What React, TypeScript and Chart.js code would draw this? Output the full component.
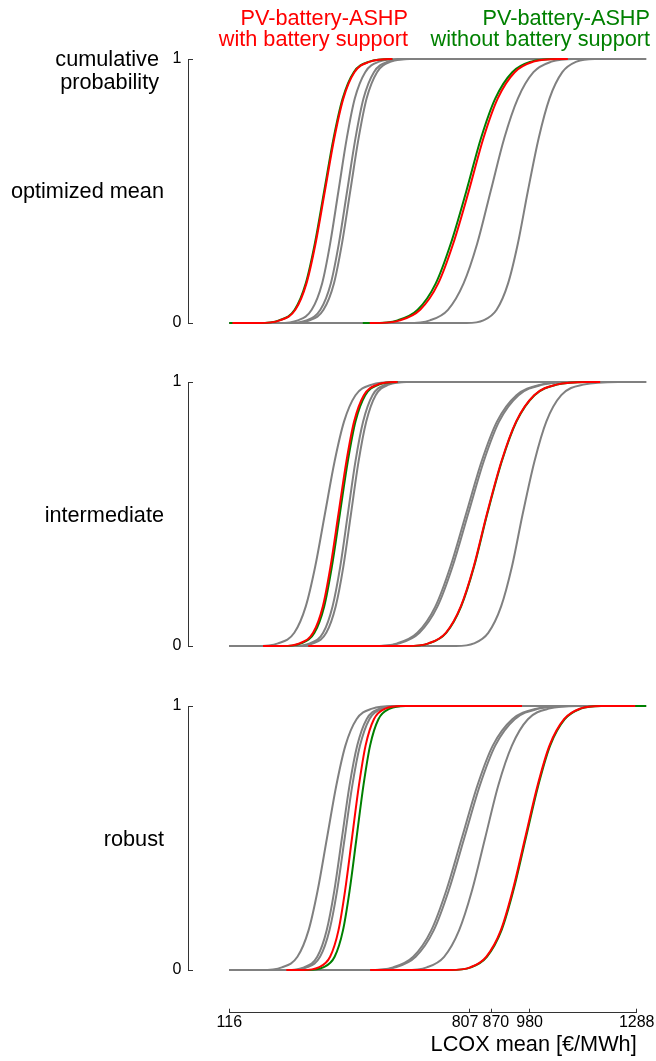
import React, { useEffect, useRef } from "react";
import { Chart, registerables } from "chart.js";

Chart.register(...registerables);

// Cumulative probability levels at which each curve's LCOX value was read
// (first / last entries are the ends of the flat tails of each curve).
const LEVELS = [0, 0, 0.01, 0.05, 0.15, 0.3, 0.5, 0.7, 0.85, 0.95, 0.99, 1, 1];
const Y_TICKS = [0, 1];
const X_TICKS = [116, 807, 870, 980, 1288];
const X_TICK_LABELS = ["116", "807  ", "  870", "980", "1288"];
const X_TITLE = "LCOX mean [€/MWh]";
const Y_TITLE = ["cumulative", "probability"];
const PANEL_LABELS = ["optimized mean", "intermediate", "robust"];
const LEGEND_WITH = ["PV-battery-ASHP", "with battery support"];
const LEGEND_WITHOUT = ["PV-battery-ASHP", "without battery support"];

// ---- optimized mean (LCOX values in €/MWh at LEVELS) ----
const OPT_RED_L = [125, 201, 261, 306, 338, 364, 391, 418, 444, 476, 521, 581, 585];
const OPT_GREEN_L = [116, 199, 259, 304, 336, 362, 389, 416, 442, 474, 519, 579, 585];
const OPT_GRAY_LA = [116, 259, 313, 353, 383, 406, 430, 454, 477, 507, 547, 601, 1315];
const OPT_GRAY_LB = [116, 284, 338, 378, 408, 431, 455, 479, 502, 532, 572, 626, 1315];
const OPT_GRAY_LC = [116, 293, 347, 387, 417, 440, 464, 488, 511, 541, 581, 635, 1315];
const OPT_RED_R = [520, 533, 607, 665, 717, 760, 805, 847, 888, 937, 991, 1061, 1090];
const OPT_GREEN_R = [500, 526, 600, 658, 710, 753, 798, 840, 881, 930, 984, 1054, 1080];
const OPT_GRAY_RD = [116, 628, 693, 745, 790, 829, 868, 907, 946, 991, 1043, 1108, 1315];
const OPT_GRAY_RF = [116, 799, 847, 885, 918, 946, 975, 1006, 1037, 1074, 1115, 1167, 1315];

// ---- intermediate ----
const INT_RED_L = [213, 267, 318, 357, 385, 407, 430, 453, 475, 503, 542, 593, 600];
const INT_GREEN_L = [230, 271, 322, 361, 389, 411, 434, 457, 479, 507, 546, 597, 600];
const INT_GRAY_LA = [116, 193, 256, 303, 336, 363, 391, 419, 446, 479, 526, 589, 1315];
const INT_GRAY_LB = [116, 297, 348, 386, 413, 435, 457, 479, 501, 528, 566, 617, 1315];
const INT_GRAY_LC = [116, 306, 357, 395, 422, 444, 466, 488, 510, 537, 575, 626, 1315];
const INT_RED_R = [343, 627, 689, 739, 782, 819, 857, 899, 941, 993, 1057, 1147, 1183];
const INT_GREEN_R = [400, 628, 690, 740, 783, 820, 858, 900, 942, 994, 1058, 1148, 1170];
const INT_GRAY_RD = [116, 525, 599, 657, 709, 752, 797, 842, 886, 942, 1012, 1097, 1315];
const INT_GRAY_RE = [116, 531, 605, 663, 715, 758, 803, 848, 892, 948, 1018, 1103, 1315];
const INT_GRAY_RF = [116, 768, 820, 861, 898, 929, 960, 994, 1028, 1071, 1135, 1235, 1315];

// ---- robust ----
const ROB_RED_L = [280, 328, 373, 406, 430, 449, 469, 489, 508, 532, 565, 610, 958];
const ROB_GREEN_L = [300, 341, 386, 419, 443, 462, 482, 502, 521, 545, 578, 623, 900];
const ROB_GRAY_LA = [116, 207, 267, 312, 344, 370, 397, 424, 450, 482, 527, 587, 1315];
const ROB_GRAY_LB = [116, 280, 331, 369, 396, 418, 440, 462, 484, 511, 549, 600, 1315];
const ROB_GRAY_LC = [116, 288, 339, 377, 404, 426, 448, 470, 492, 519, 557, 608, 1315];
const ROB_RED_R = [521, 749, 809, 855, 897, 931, 967, 1003, 1037, 1079, 1125, 1185, 1284];
const ROB_GREEN_R = [540, 751, 811, 857, 899, 933, 969, 1005, 1039, 1081, 1127, 1187, 1315];
const ROB_GRAY_RD = [116, 513, 587, 645, 697, 740, 785, 830, 874, 930, 1000, 1085, 1315];
const ROB_GRAY_RE = [116, 520, 594, 652, 704, 747, 792, 837, 881, 937, 1007, 1092, 1315];
const ROB_GRAY_RF = [116, 622, 684, 734, 777, 814, 852, 890, 929, 975, 1035, 1120, 1315];

const RED = "#ff0000";
const GREEN = "#008000";
const GRAY = "#808080";
const AXIS = "#333333";
const FONT = "'Liberation Sans', Arial, Helvetica, sans-serif";

type Curve = { values: number[]; color: string };

// first entries are drawn on top
const PANELS: Curve[][] = [
  [
    { values: OPT_RED_L, color: RED },
    { values: OPT_RED_R, color: RED },
    { values: OPT_GREEN_L, color: GREEN },
    { values: OPT_GREEN_R, color: GREEN },
    { values: OPT_GRAY_LA, color: GRAY },
    { values: OPT_GRAY_LB, color: GRAY },
    { values: OPT_GRAY_LC, color: GRAY },
    { values: OPT_GRAY_RD, color: GRAY },
    { values: OPT_GRAY_RF, color: GRAY },
  ],
  [
    { values: INT_RED_L, color: RED },
    { values: INT_RED_R, color: RED },
    { values: INT_GREEN_L, color: GREEN },
    { values: INT_GREEN_R, color: GREEN },
    { values: INT_GRAY_LA, color: GRAY },
    { values: INT_GRAY_LB, color: GRAY },
    { values: INT_GRAY_LC, color: GRAY },
    { values: INT_GRAY_RD, color: GRAY },
    { values: INT_GRAY_RE, color: GRAY },
    { values: INT_GRAY_RF, color: GRAY },
  ],
  [
    { values: ROB_RED_L, color: RED },
    { values: ROB_RED_R, color: RED },
    { values: ROB_GREEN_L, color: GREEN },
    { values: ROB_GREEN_R, color: GREEN },
    { values: ROB_GRAY_LA, color: GRAY },
    { values: ROB_GRAY_LB, color: GRAY },
    { values: ROB_GRAY_LC, color: GRAY },
    { values: ROB_GRAY_RD, color: GRAY },
    { values: ROB_GRAY_RE, color: GRAY },
    { values: ROB_GRAY_RF, color: GRAY },
  ],
];

// ---- layout (pixels) ----
const W = 656;
const H = 1061;
const AXIS_CANVAS_W = 700;
const Y_AXIS_PX = 188;
const X_START_PX = 229.3;
const X_END_PX = 636.7;
const PANEL_TOPS = [58.5, 382.3, 705.8];
const PANEL_H = 264.2;
const PANEL_PAD = 24;
const X_AXIS_PX = 1012.7;
const AXIS_CANVAS_TOP = 1000;
const LABEL_SIZE = 21.7;
const TICK_SIZE = 16;

const UNITS_PER_PX = (X_TICKS[X_TICKS.length - 1] - X_TICKS[0]) / (X_END_PX - X_START_PX);
const PANEL_X_MIN = X_TICKS[0] - (X_START_PX - Y_AXIS_PX) * UNITS_PER_PX;

const toPoints = (vals: number[]) => vals.map((x, i) => ({ x, y: LEVELS[i] }));

export default function App() {
  const p0 = useRef<HTMLCanvasElement>(null);
  const p1 = useRef<HTMLCanvasElement>(null);
  const p2 = useRef<HTMLCanvasElement>(null);
  const axisRef = useRef<HTMLCanvasElement>(null);
  const panelRefs = [p0, p1, p2];

  useEffect(() => {
    const charts: Chart[] = [];
    panelRefs.forEach((ref, i) => {
      const c = ref.current;
      if (!c) return;
      charts.push(
        new Chart(c, {
          type: "line",
          data: {
            datasets: PANELS[i].map((s) => ({
              data: toPoints(s.values),
              borderColor: s.color,
              backgroundColor: s.color,
              borderWidth: 2,
              pointRadius: 0,
              pointHoverRadius: 0,
              fill: false,
              cubicInterpolationMode: "monotone",
              capBezierPoints: false,
              clip: false,
            })) as any,
          },
          options: {
            responsive: false,
            animation: false,
            events: [],
            layout: {
              padding: { top: PANEL_PAD, bottom: PANEL_PAD, left: 0, right: W - X_END_PX },
            },
            plugins: {
              legend: { display: false },
              tooltip: { enabled: false },
              title: { display: false },
            },
            scales: {
              x: {
                type: "linear",
                display: false,
                min: PANEL_X_MIN,
                max: X_TICKS[X_TICKS.length - 1],
              },
              y: {
                type: "linear",
                min: Y_TICKS[0],
                max: Y_TICKS[Y_TICKS.length - 1],
                afterBuildTicks: (s: any) => {
                  s.ticks = Y_TICKS.map((v) => ({ value: v }));
                },
                afterFit: (s: any) => {
                  s.width = Y_AXIS_PX;
                },
                ticks: {
                  font: { family: FONT, size: TICK_SIZE },
                  color: "#000",
                  padding: 11.5,
                  callback: (v: any) => String(v),
                },
                grid: {
                  drawOnChartArea: false,
                  drawTicks: true,
                  tickLength: -5,
                  color: AXIS,
                  lineWidth: 1,
                },
                border: { display: true, color: AXIS, width: 1 },
              },
            },
          } as any,
        })
      );
    });

    if (axisRef.current) {
      const axisH = H - AXIS_CANVAS_TOP;
      const areaBottom = X_AXIS_PX - AXIS_CANVAS_TOP;
      charts.push(
        new Chart(axisRef.current, {
          type: "line",
          data: { datasets: [] },
          options: {
            responsive: false,
            animation: false,
            events: [],
            layout: {
              padding: { top: 0, bottom: 0, left: X_START_PX, right: AXIS_CANVAS_W - X_END_PX },
            },
            plugins: {
              legend: { display: false },
              tooltip: { enabled: false },
            },
            scales: {
              x: {
                type: "linear",
                position: "bottom",
                min: X_TICKS[0],
                max: X_TICKS[X_TICKS.length - 1],
                afterBuildTicks: (s: any) => {
                  s.ticks = X_TICKS.map((v) => ({ value: v }));
                },
                afterFit: (s: any) => {
                  s.height = axisH - areaBottom;
                },
                ticks: {
                  font: { family: FONT, size: TICK_SIZE },
                  color: "#000",
                  padding: 4.7,
                  autoSkip: false,
                  maxRotation: 0,
                  minRotation: 0,
                  callback: (_v: any, i: number) => X_TICK_LABELS[i],
                },
                grid: {
                  drawOnChartArea: false,
                  drawTicks: true,
                  tickLength: -4,
                  color: AXIS,
                  lineWidth: 1,
                },
                border: { display: true, color: AXIS, width: 1 },
                title: {
                  display: true,
                  text: X_TITLE,
                  align: "end",
                  color: "#000",
                  font: { family: FONT, size: LABEL_SIZE },
                  padding: { top: 0, bottom: 3 },
                },
              },
              y: { type: "linear", display: false, min: 0, max: 1 },
            },
          } as any,
        })
      );
    }
    return () => charts.forEach((c) => c.destroy());
  }, []);

  const textBase: React.CSSProperties = {
    position: "absolute",
    fontFamily: FONT,
    fontSize: LABEL_SIZE,
    lineHeight: `${LABEL_SIZE}px`,
    whiteSpace: "pre",
    textAlign: "right",
  };

  return (
    <div
      style={{
        position: "absolute",
        left: 0,
        top: 0,
        width: W,
        height: H,
        background: "#fff",
        overflow: "hidden",
      }}
    >
      {panelRefs.map((ref, i) => (
        <canvas
          key={i}
          ref={ref}
          width={W}
          height={Math.round(PANEL_H + 2 * PANEL_PAD)}
          style={{
            position: "absolute",
            left: 0,
            top: PANEL_TOPS[i] - PANEL_PAD,
            width: W,
            height: Math.round(PANEL_H + 2 * PANEL_PAD),
          }}
        />
      ))}
      <canvas
        ref={axisRef}
        width={AXIS_CANVAS_W}
        height={H - AXIS_CANVAS_TOP}
        style={{
          position: "absolute",
          left: 0,
          top: AXIS_CANVAS_TOP,
          width: AXIS_CANVAS_W,
          height: H - AXIS_CANVAS_TOP,
        }}
      />

      <div style={{ ...textBase, color: RED, right: W - 408, top: 6.6 }}>
        {LEGEND_WITH.map((t, i) => (
          <div key={i}>{t}</div>
        ))}
      </div>
      <div style={{ ...textBase, color: GREEN, right: W - 650, top: 6.6 }}>
        {LEGEND_WITHOUT.map((t, i) => (
          <div key={i}>{t}</div>
        ))}
      </div>

      <div style={{ ...textBase, color: "#000", right: W - 159, top: 48, lineHeight: "22.5px" }}>
        {Y_TITLE.map((t, i) => (
          <div key={i}>{t}</div>
        ))}
      </div>

      {PANEL_LABELS.map((t, i) => (
        <div
          key={t}
          style={{
            ...textBase,
            color: "#000",
            right: W - 164,
            top: PANEL_TOPS[i] + PANEL_H / 2 + 8 - 18.4,
          }}
        >
          {t}
        </div>
      ))}
    </div>
  );
}
